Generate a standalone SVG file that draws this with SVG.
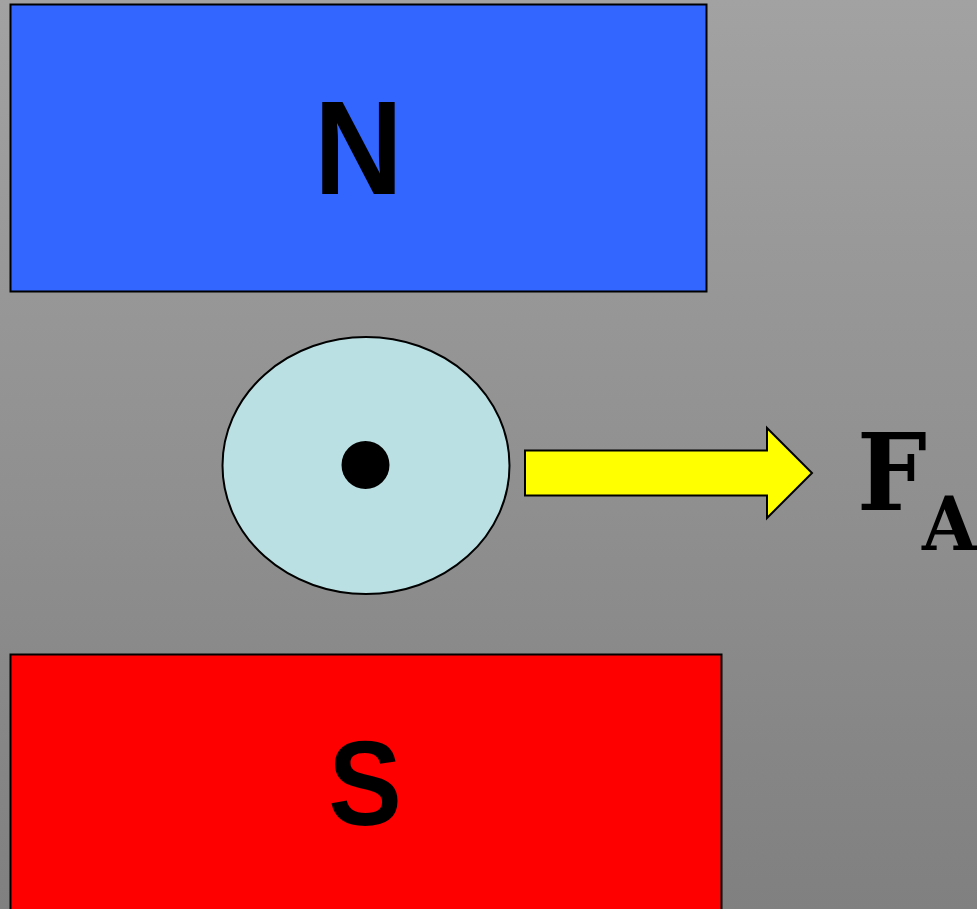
<svg xmlns="http://www.w3.org/2000/svg" width="977" height="909" viewBox="0 0 977 909">
<defs><linearGradient id="bg" x1="0" y1="0" x2="0" y2="1"><stop offset="0" stop-color="#a2a2a2"/><stop offset="1" stop-color="#808080"/></linearGradient></defs>
<style>.s{stroke:#000;stroke-width:2}.t{font-family:"Liberation Sans",Arial,sans-serif;font-weight:700;text-anchor:middle}.f{font-family:"DejaVu Serif",serif;font-weight:700}</style>
<rect width="977" height="909" fill="url(#bg)"/>
<g id="north"><rect class="s" x="10.500" y="4.500" width="696" height="287" fill="#3366ff"/><text class="t" transform="translate(358.500 194) scale(.92 1)" font-size="134">N</text></g>
<g id="south"><rect class="s" x="10.500" y="654.500" width="711" height="270" fill="#ff0000"/><text class="t" transform="translate(365 825) scale(.92 1)" font-size="120">S</text></g>
<g id="wire"><ellipse class="s" cx="366" cy="465.500" rx="143.500" ry="128.500" fill="#bbe0e3"/><circle cx="365.500" cy="465" r="24"/></g>
<g id="connectors"><polygon class="s" points="525,450.500 767,450.500 767,428 812,473 767,518 767,495.500 525,495.500" fill="#ffff00"/></g>
<g id="force"><text class="f" transform="translate(857 510) scale(.92 1)" font-size="107">F</text><text class="f" transform="translate(922 550) scale(.95 1)" font-size="74">A</text></g>
</svg>
